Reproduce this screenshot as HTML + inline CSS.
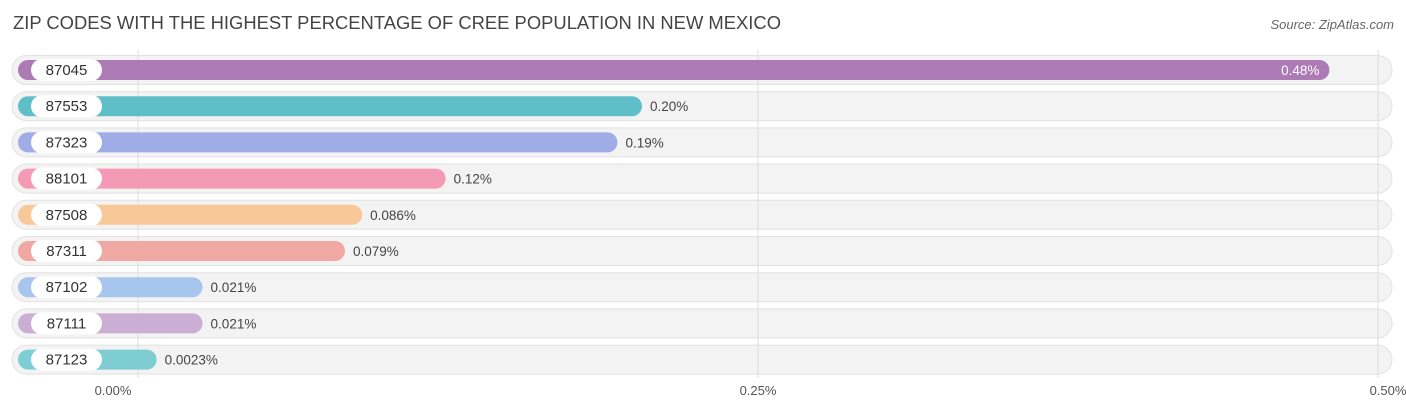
<!DOCTYPE html>
<html><head><meta charset="utf-8"><style>
body{margin:0;background:#fff;font-family:"Liberation Sans",sans-serif;}
svg{display:block}
</style></head><body>
<svg width="1406" height="413" xmlns="http://www.w3.org/2000/svg">
<text x="13" y="29" font-size="18" fill="#444" textLength="768" lengthAdjust="spacingAndGlyphs">ZIP CODES WITH THE HIGHEST PERCENTAGE OF CREE POPULATION IN NEW MEXICO</text>
<text x="1394" y="29" font-size="13" fill="#666" font-style="italic" text-anchor="end">Source: ZipAtlas.com</text>
<g id="bgs"></g>
<g id="grid"></g>
<g id="rows"></g>
<g id="ticks"></g>
</svg>
<script>
const categories=["87045","87553","87323","88101","87508","87311","87102","87111","87123"];
const values=[0.48,0.20,0.19,0.12,0.086,0.079,0.021,0.021,0.0023];
const valueLabels=["0.48%","0.20%","0.19%","0.12%","0.086%","0.079%","0.021%","0.021%","0.0023%"];
const colors=["#ac7ab4","#5fbfc9","#a0ace6","#f59ab6","#f9c898","#efa8a3","#a7c6ee","#cbaed3","#7ecdd3"];
const tickValues=[0,0.25,0.5];
const tickLabels=["0.00%","0.25%","0.50%"];
const NS="http://www.w3.org/2000/svg";
const x=v=>151+v*2455;
const gx=v=>138+v*2480;
const rowY=i=>70+i*36.2;
function mk(tag,attrs,parent){const e=document.createElementNS(NS,tag);for(const k in attrs)e.setAttribute(k,attrs[k]);parent.appendChild(e);return e;}
const bgs=document.getElementById('bgs'),grid=document.getElementById('grid'),rows=document.getElementById('rows'),ticks=document.getElementById('ticks');
tickValues.forEach((v,i)=>{
 const l=mk('line',{x1:gx(v),x2:gx(v),y1:50,y2:378,stroke:'#ddd','stroke-width':1},grid);
 
 
 const t=mk('text',{x:gx(v)-(i===0?25:i===2?-10:0),y:395,'font-size':13,fill:'#555','text-anchor':'middle'},ticks);
 t.textContent=tickLabels[i];
 
 
});
categories.forEach((c,i)=>{
 const y=rowY(i);
 const bg=mk('rect',{x:12,y:y-14.5,width:1380,height:29,rx:14.5,fill:'#f3f3f3',stroke:'#e2e2e2','stroke-width':1},bgs);
 
 
 const g=mk('g',{},rows);
 
 
 const w=x(values[i])-18;
 const b=mk('rect',{x:18,y:y-10,width:w,height:20,rx:10,fill:colors[i]},g);
 
 
 const lp=mk('rect',{x:31,y:y-11,width:71,height:22,rx:11,fill:'#fff'},g);
 
 
 const lt=mk('text',{x:66.5,y:y+5,'font-size':15,fill:'#333','text-anchor':'middle'},g);
 lt.textContent=c;
 
 
 const inside=i===0;
 const vt=mk('text',{x:inside?x(values[i])-10:x(values[i])+8,y:y+5,'font-size':13.5,fill:inside?'#fff':'#444','text-anchor':inside?'end':'start'},g);
 vt.textContent=valueLabels[i];
 
 
});
</script>
</body></html>
